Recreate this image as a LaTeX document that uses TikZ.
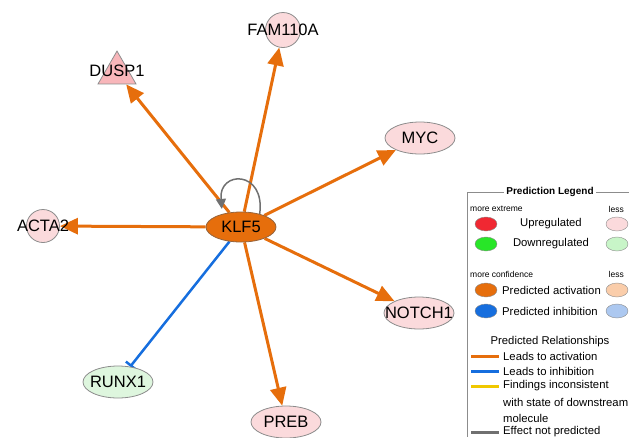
\documentclass[tikz,border=0pt]{standalone}
\usepackage{fontspec}
\setmainfont{Liberation Sans}
\usetikzlibrary{arrows.meta,shapes.geometric,backgrounds}
\definecolor{actorange}{RGB}{230,110,12}
\definecolor{inhblue}{RGB}{22,110,222}
\definecolor{inconyellow}{RGB}{240,200,0}
\definecolor{edgegray}{RGB}{112,112,112}
\definecolor{nodeborder}{RGB}{140,140,140}
\definecolor{upfill}{RGB}{251,218,220}
\definecolor{trifill}{RGB}{248,182,186}
\definecolor{dnfill}{RGB}{222,246,222}
\definecolor{upred}{RGB}{240,40,50}
\definecolor{dngreen}{RGB}{40,230,40}
\definecolor{actpale}{RGB}{250,205,170}
\definecolor{inhpale}{RGB}{172,200,240}
\definecolor{dnpale}{RGB}{200,245,200}
\definecolor{klfborder}{RGB}{150,100,60}

\begin{document}
\begin{tikzpicture}[x=1pt, y=-1pt,
    gene/.style={draw=nodeborder, line width=0.8pt, inner sep=0pt, font=\fontsize{16.5}{18}\selectfont},
    oval/.style={gene, ellipse, minimum width=70pt, minimum height=32pt, fill=upfill},
    ball/.style={gene, circle, minimum size=33pt, fill=upfill},
    act/.style={actorange, line width=3pt, -{Triangle[length=18pt, width=16pt]}},
    inh/.style={inhblue, line width=2.5pt, -{Bar[width=13pt]}},
    selfloop/.style={edgegray, line width=1.5pt, -{Triangle[length=10pt, width=10pt]}, shorten >=5pt},
    lgell/.style={ellipse, draw=nodeborder, minimum width=22pt, minimum height=14pt, inner sep=0pt},
    lgtxt/.style={font=\fontsize{11.3}{13}\selectfont, inner sep=0pt},
    lgsmall/.style={font=\fontsize{8.5}{10}\selectfont, inner sep=0pt},
    lgline/.style={line width=3pt}]
  \useasboundingbox (0,0) rectangle (629,437);

  % network
  \node[gene, ellipse, fill=actorange, draw=klfborder, minimum width=70pt, minimum height=30pt] (klf) at (241,227) {KLF5};
  \node[ball] (acta) at (43,226) {\makebox[0pt]{ACTA2}};
  \node[ball, minimum size=35pt] (fam) at (283,30) {\makebox[0pt]{FAM110A}};
  \node[gene, regular polygon, regular polygon sides=3, minimum size=42pt, fill=trifill] (dusp) at (117,73) {\raisebox{4pt}{\makebox[0pt]{DUSP1}}};
  \node[oval] (myc) at (420,138) {\makebox[0pt]{MYC}};
  \node[oval] (notch) at (419,313) {\makebox[0pt]{NOTCH1}};
  \node[oval] (preb) at (286,422) {\makebox[0pt]{PREB}};
  \node[oval, fill=dnfill] (runx) at (118,382) {\makebox[0pt]{RUNX1}};

  \begin{scope}[on background layer]
    \foreach \to in {acta, dusp, fam, myc, notch, preb}
      \draw[act] (klf) -- (\to);
    \draw[inh] (klf) -- (runx);
    \draw[selfloop] (klf.35) .. controls +(6,-44) and +(-4,-44) .. (klf.145);
  \end{scope}

  % legend
  \draw[nodeborder, line width=0.8pt] (629,192) -- (467,192) -- (467,437);
  \node[font=\bfseries\fontsize{10}{12}\selectfont, fill=white, inner sep=2pt] (lgtitle) at (550,192) {Prediction Legend};
  \node[lgsmall, anchor=west] (lgext) at (470,209) {more extreme};
  \node[lgsmall, anchor=east] (lgless1) at (624,209) {less};
  \node[lgsmall, anchor=west] (lgconf) at (470,274) {more confidence};
  \node[lgsmall, anchor=east] (lgless2) at (624,274) {less};
  \foreach \y/\strong/\pale/\t in {224/upred/upfill/Upregulated, 244/dngreen/dnpale/Downregulated}
    {
      \node[lgell, fill=\strong] (s\y) at (486,\y) {};
      \node[lgell, fill=\pale] (p\y) at (617,\y) {};
      \node[lgtxt] (t\y) at (551,\y) {\t};
    }
  \foreach \y/\strong/\pale/\t in {290/actorange/actpale/Predicted activation, 311/inhblue/inhpale/Predicted inhibition}
    {
      \node[lgell, fill=\strong] (s\y) at (486,\y) {};
      \node[lgell, fill=\pale] (p\y) at (617,\y) {};
      \node[lgtxt, anchor=west] (t\y) at (502,\y) {\t};
    }
  \node[lgtxt] (lgrel) at (550,342) {Predicted Relationships};
  \foreach \y/\c/\t in {356/actorange/Leads to activation, 371/inhblue/Leads to inhibition,
                        386/inconyellow/Findings inconsistent, 432/edgegray/Effect not predicted}
    {
      \draw[lgline, \c] (471,\y) -- (499,\y);
      \node[lgtxt, anchor=west] (r\y) at (503,\y) {\t};
    }
  \node[lgtxt, anchor=west] (r402) at (503,402) {with state of downstream};
  \node[lgtxt, anchor=west] (r418) at (503,418) {molecule};
\end{tikzpicture}
\end{document}
